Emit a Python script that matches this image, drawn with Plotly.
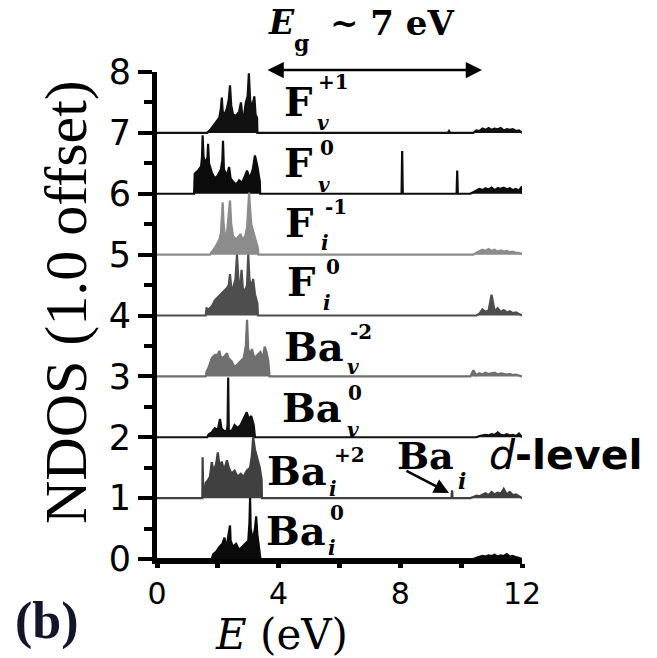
import plotly.graph_objects as go

# ---------------- data ----------------
offsets = [7, 6, 5, 4, 3, 2, 1, 0]
cb_e = [10.3, 10.4, 10.5, 10.6, 10.7, 10.8, 10.9, 11.0, 11.1, 11.2, 11.3, 11.4, 11.5, 11.6, 11.7, 11.8, 11.9, 12.0]

# F_v^+1
fvp1_vb_e = [1.65, 1.75, 1.85, 1.95, 2.05, 2.1, 2.13, 2.16, 2.22, 2.3, 2.36, 2.4, 2.44, 2.5, 2.6, 2.7, 2.76, 2.8, 2.86, 2.92, 2.98, 3.02, 3.06, 3.12, 3.2, 3.24, 3.29, 3.3]
fvp1_vb = [0, 0.05, 0.12, 0.2, 0.25, 0.4, 0.58, 0.35, 0.3, 0.4, 0.55, 0.78, 0.45, 0.3, 0.28, 0.35, 0.5, 0.3, 0.28, 0.5, 0.6, 0.98, 0.55, 0.4, 0.6, 0.3, 0.25, 0]
fvp1_def_e = [9.56, 9.6, 9.64]
fvp1_def = [0, 0.03, 0]
fvp1_cb = [0, 0, 0.04, 0.03, 0.07, 0.05, 0.08, 0.05, 0.07, 0.06, 0.08, 0.04, 0.06, 0.05, 0.06, 0.03, 0.04, 0.01]

# F_v^0
fv0_vb_e = [1.22, 1.24, 1.35, 1.45, 1.48, 1.5, 1.53, 1.6, 1.66, 1.68, 1.71, 1.8, 1.9, 2.0, 2.1, 2.15, 2.17, 2.2, 2.3, 2.37, 2.42, 2.5, 2.6, 2.7, 2.8, 2.9, 2.96, 3.05, 3.15, 3.22, 3.3, 3.38, 3.39]
fv0_vb = [0, 0.33, 0.38, 0.45, 0.6, 0.96, 0.6, 0.5, 0.6, 0.82, 0.5, 0.35, 0.25, 0.3, 0.4, 0.55, 0.87, 0.4, 0.3, 0.44, 0.25, 0.2, 0.15, 0.22, 0.18, 0.3, 0.38, 0.25, 0.4, 0.63, 0.45, 0.2, 0]
fv0_def_e = [8.04, 8.06, 8.08, 9.85, 9.87, 9.89]
fv0_def = [0, 0.7, 0, 0, 0.38, 0]
fv0_cb = [0, 0.03, 0.05, 0.08, 0.06, 0.09, 0.07, 0.1, 0.06, 0.09, 0.08, 0.1, 0.07, 0.09, 0.06, 0.08, 0.05, 0.12]

# F_i^-1
fim1_vb_e = [1.74, 1.85, 1.95, 2.05, 2.1, 2.13, 2.16, 2.19, 2.24, 2.3, 2.35, 2.4, 2.44, 2.5, 2.6, 2.7, 2.75, 2.8, 2.9, 2.96, 3.0, 3.03, 3.06, 3.1, 3.18, 3.25, 3.32, 3.33]
fim1_vb = [0, 0.08, 0.15, 0.25, 0.35, 0.6, 0.86, 0.5, 0.3, 0.35, 0.6, 0.89, 0.5, 0.3, 0.25, 0.3, 0.34, 0.25, 0.3, 0.45, 0.7, 1.02, 0.75, 0.5, 0.35, 0.2, 0.1, 0]
fim1_def_e = []
fim1_def = []
fim1_cb = [0, 0, 0.03, 0.05, 0.08, 0.06, 0.09, 0.06, 0.08, 0.05, 0.07, 0.05, 0.06, 0.04, 0.05, 0.03, 0.03, 0.01]

# F_i^0
fi0_vb_e = [1.6, 1.63, 1.7, 1.8, 1.9, 2.0, 2.1, 2.2, 2.3, 2.36, 2.4, 2.44, 2.5, 2.58, 2.63, 2.68, 2.74, 2.78, 2.82, 2.9, 2.96, 3.0, 3.04, 3.1, 3.16, 3.22, 3.3, 3.32]
fi0_vb = [0, 0.12, 0.1, 0.15, 0.25, 0.3, 0.35, 0.4, 0.45, 0.5, 0.68, 0.45, 0.45, 0.6, 1.0, 0.55, 0.5, 0.75, 0.45, 0.4, 0.5, 1.0, 0.6, 0.45, 0.6, 0.35, 0.2, 0]
fi0_def_e = []
fi0_def = []
fi0_cb = [0, 0, 0, 0.03, 0.1, 0.06, 0.08, 0.34, 0.07, 0.12, 0.06, 0.09, 0.05, 0.07, 0.04, 0.05, 0.03, 0.01]

# Ba_v^-2
bavm2_vb_e = [1.6, 1.63, 1.7, 1.8, 1.9, 2.0, 2.05, 2.1, 2.2, 2.3, 2.35, 2.45, 2.55, 2.65, 2.75, 2.85, 2.92, 2.96, 3.0, 3.06, 3.12, 3.2, 3.3, 3.4, 3.48, 3.54, 3.6, 3.66, 3.7]
bavm2_vb = [0, 0.08, 0.15, 0.3, 0.35, 0.36, 0.42, 0.3, 0.32, 0.38, 0.3, 0.25, 0.15, 0.2, 0.25, 0.3, 0.5, 0.93, 0.45, 0.35, 0.45, 0.3, 0.35, 0.4, 0.3, 0.49, 0.4, 0.25, 0]
bavm2_def_e = []
bavm2_def = []
bavm2_cb = [0, 0.1, 0.02, 0.05, 0.03, 0.06, 0.04, 0.05, 0.06, 0.03, 0.05, 0.04, 0.03, 0.04, 0.02, 0.03, 0.02, 0.01]

# Ba_v^0
bav0_vb_e = [1.65, 1.7, 1.8, 1.9, 2.0, 2.07, 2.12, 2.2, 2.3, 2.32, 2.34, 2.36, 2.45, 2.55, 2.65, 2.75, 2.85, 2.95, 3.02, 3.1, 3.18, 3.22]
bav0_vb = [0, 0.05, 0.08, 0.15, 0.12, 0.3, 0.15, 0.1, 0.12, 0.2, 0.98, 0.12, 0.1, 0.2, 0.15, 0.2, 0.3, 0.41, 0.3, 0.35, 0.2, 0]
bav0_def_e = []
bav0_def = []
bav0_cb = [0, 0, 0, 0.02, 0.03, 0.04, 0.03, 0.05, 0.04, 0.08, 0.04, 0.03, 0.05, 0.03, 0.04, 0.02, 0.06, 0.01]

# Ba_i^+2
baip2_vb_e = [1.49, 1.5, 1.52, 1.55, 1.6, 1.68, 1.74, 1.8, 1.86, 1.94, 2.0, 2.06, 2.13, 2.2, 2.3, 2.36, 2.45, 2.55, 2.65, 2.75, 2.85, 2.95, 3.06, 3.12, 3.16, 3.22, 3.3, 3.38, 3.44, 3.45]
baip2_vb = [0, 0.67, 0.05, 0.05, 0.25, 0.3, 0.35, 0.59, 0.45, 0.55, 0.75, 0.5, 0.6, 0.45, 0.62, 0.5, 0.4, 0.45, 0.35, 0.4, 0.35, 0.45, 0.5, 0.7, 1.0, 0.8, 0.65, 0.5, 0.3, 0]
baip2_def_e = [9.68, 9.7, 9.72]
baip2_def = [0, 0.13, 0]
baip2_cb = [0, 0.02, 0.04, 0.03, 0.06, 0.08, 0.05, 0.1, 0.06, 0.09, 0.07, 0.15, 0.06, 0.1, 0.05, 0.06, 0.03, 0.01]

# Ba_i^0
bai0_vb_e = [1.8, 1.85, 1.95, 2.05, 2.15, 2.22, 2.26, 2.32, 2.38, 2.4, 2.42, 2.5, 2.6, 2.7, 2.8, 2.9, 3.0, 3.04, 3.06, 3.08, 3.15, 3.22, 3.26, 3.3, 3.36, 3.4]
bai0_vb = [0, 0.08, 0.12, 0.2, 0.25, 0.35, 0.2, 0.3, 0.45, 0.55, 0.3, 0.2, 0.25, 0.15, 0.2, 0.25, 0.3, 0.6, 1.0, 0.5, 0.3, 0.5, 0.7, 0.4, 0.15, 0]
bai0_def_e = []
bai0_def = []
bai0_cb = [0, 0, 0.02, 0.03, 0.05, 0.04, 0.06, 0.05, 0.07, 0.04, 0.06, 0.05, 0.08, 0.04, 0.05, 0.03, 0.02, 0.01]

label_main = ["F", "F", "F", "F", "Ba", "Ba", "Ba", "Ba"]
label_sup = ["+1", "0", "-1", "0", "-2", "0", "+2", "0"]
label_sub = ["v", "v", "i", "i", "v", "v", "i", "i"]

x_tick_vals = [0, 2, 4, 6, 8, 10, 12]
x_tick_text = ["0", "", "4", "", "8", "", "12"]
y_tick_vals = [0, 1, 2, 3, 4, 5, 6, 7, 8]

# ---------------- styling ----------------
colors = ["#111111", "#0c0c0c", "#8c8c8c", "#4e4e4e", "#707070", "#111111", "#404040", "#0a0a0a"]

spectra = [
    (fvp1_vb_e, fvp1_vb, fvp1_def_e, fvp1_def, fvp1_cb),
    (fv0_vb_e, fv0_vb, fv0_def_e, fv0_def, fv0_cb),
    (fim1_vb_e, fim1_vb, fim1_def_e, fim1_def, fim1_cb),
    (fi0_vb_e, fi0_vb, fi0_def_e, fi0_def, fi0_cb),
    (bavm2_vb_e, bavm2_vb, bavm2_def_e, bavm2_def, bavm2_cb),
    (bav0_vb_e, bav0_vb, bav0_def_e, bav0_def, bav0_cb),
    (baip2_vb_e, baip2_vb, baip2_def_e, baip2_def, baip2_cb),
    (bai0_vb_e, bai0_vb, bai0_def_e, bai0_def, bai0_cb),
]

W, H = 657, 658
L, R, T, B = 157, 135, 72, 99
XMIN, XMAX, YMIN, YMAX = 0, 12, 0, 8
pw, ph = W - L - R, H - T - B


def px_(px):
    return (px - L) / pw


def py_(py):
    return (H - B - py) / ph


fig = go.Figure()
for (ve, vd, de, dd, cb), off, col in zip(spectra, offsets, colors):
    xs = [XMIN] + list(ve) + list(de) + list(cb_e)
    ys = [0.0] + list(vd) + list(dd) + list(cb)
    xs = xs + [xs[-1]]          # close polygon down to the baseline
    ys = ys + [0.0]
    fig.add_trace(go.Scatter(
        x=xs, y=[v + off for v in ys], mode="lines",
        line=dict(color=col, width=2.2), fill="toself", fillcolor=col,
        hoverinfo="skip", showlegend=False))

serif = "DejaVu Serif"
ann = []


def txt(x, y, text, family, size, color="black", **kw):
    d = dict(xref="paper", yref="paper", x=px_(x), y=py_(y), text=text, showarrow=False,
             xanchor="center", yanchor="middle",
             font=dict(family=family, size=size, color=color))
    d.update(kw)
    ann.append(d)


main_pos = [(298, 101), (298, 162), (299, 222), (301, 281), (314, 346), (312, 407), (297, 470), (296, 530)]
sup_pos = [(333, 82), (327, 148), (336, 207), (333, 267), (361, 332), (355, 393), (349, 455), (337, 513)]
sub_pos = [(323, 123), (324, 185), (325, 243), (327, 303), (353, 367), (353, 430), (333, 489), (332, 548)]
for i in range(8):
    txt(*main_pos[i], "<b>%s</b>" % label_main[i], serif, 40)
    txt(*sup_pos[i], "<b>%s</b>" % label_sup[i], serif, 20)
    txt(*sub_pos[i], "<b><i>%s</i></b>" % label_sub[i], serif, 20)

# Eg title
txt(281, 23, "<b><i>E</i></b>", serif, 33)
txt(301, 43, "<b>g</b>", serif, 22)
txt(392, 23, "<b>~ 7 eV</b>", serif, 34)
# Eg double arrow
ann.append(dict(xref="paper", yref="paper", x=px_(482), y=py_(70), axref="pixel", ayref="pixel",
                ax=-(482 - 266), ay=0, text="", showarrow=True, arrowhead=2, startarrowhead=2,
                arrowside="end+start", arrowsize=1.3, startarrowsize=1.3, arrowwidth=2.5,
                arrowcolor="black"))

# Ba_i d-level annotation
txt(425, 455, "<b>Ba</b>", serif, 38)
txt(462, 481, "<b><i>i</i></b>", serif, 22)
txt(566, 455, "<i>d</i><b>-level</b>", "DejaVu Sans", 41)
ann.append(dict(xref="paper", yref="paper", x=px_(449), y=py_(493), ax=-44, ay=-23, text="",
                showarrow=True, arrowhead=2, arrowsize=1.2, arrowwidth=2.5, arrowcolor="black"))

# axis titles and panel label
txt(66, 302, "NDOS (1.0 offset)", "Liberation Serif", 60, textangle=-90)
txt(281, 634, "<i>E</i> (eV)", serif, 42)
txt(47, 621, "<b>(b)</b>", "Liberation Serif", 52, color="#14142a")

fig.update_layout(
    width=W, height=H, margin=dict(l=L, r=R, t=T, b=B),
    paper_bgcolor="white", plot_bgcolor="white", showlegend=False,
    annotations=ann,
    xaxis=dict(range=[XMIN, XMAX], showgrid=False, zeroline=False, showline=True, linewidth=5,
               linecolor="black", ticks="outside", ticklen=4, tickwidth=5, tickcolor="black",
               tickvals=x_tick_vals, ticktext=x_tick_text,
               tickfont=dict(family="DejaVu Sans", size=30, color="black")),
    yaxis=dict(range=[YMIN, YMAX], showgrid=False, zeroline=False, showline=True, linewidth=5,
               linecolor="black", ticks="outside", ticklen=14, tickwidth=4, tickcolor="black",
               tickvals=y_tick_vals,
               minor=dict(dtick=0.5, ticks="outside", ticklen=8, tickwidth=4, tickcolor="black"),
               tickfont=dict(family="DejaVu Sans", size=35, color="black")),
)

fig.write_html("out.html")
